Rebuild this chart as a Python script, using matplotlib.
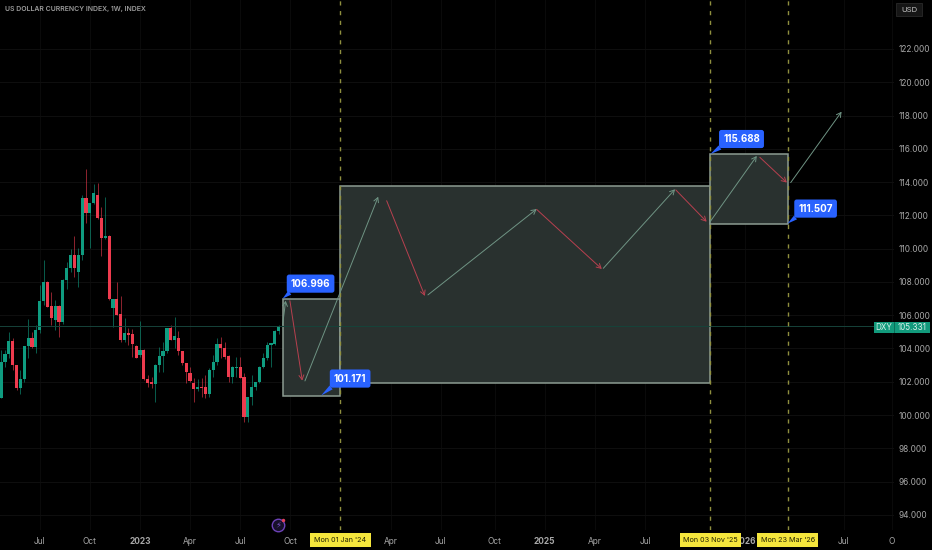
import matplotlib
matplotlib.use("Agg")
import numpy as np
import matplotlib.pyplot as plt
from matplotlib.patches import Rectangle

plt.rcParams['font.family'] = ['Inter', 'DejaVu Sans']

# weekly candles, week 0 = first week of Jan 2023
first_week = -36
opens = [101.03, 103.21, 103.67, 104.45, 103.01, 101.63, 102.17, 104.15, 104.63, 104.09,
         105.11, 106.86, 108.00, 106.55, 105.71, 106.55, 105.59, 108.12, 108.84, 109.62,
         108.60, 109.62, 113.04, 112.14, 112.74, 113.23, 111.84, 110.64, 110.76, 106.43,
         106.97, 106.07, 104.51, 104.93, 104.87, 104.15, 103.61, 103.91, 102.17, 101.99,
         101.87, 103.01, 103.55, 103.85, 105.23, 104.51, 104.63, 103.85, 103.13, 102.53,
         101.93, 101.57, 101.69, 101.69, 101.27, 102.71, 103.19, 104.27, 104.03, 103.55,
         102.29, 102.83, 102.89, 102.29, 99.88, 101.09, 101.69, 101.99, 102.89, 103.43,
         104.21, 104.27, 105.05]
highs = [103.91, 103.91, 104.99, 104.63, 103.01, 102.71, 104.16, 105.77, 104.99, 105.41,
         107.82, 109.32, 108.05, 107.40, 106.92, 106.60, 108.20, 109.20, 109.98, 110.76,
         110.04, 113.23, 114.79, 112.75, 113.89, 113.95, 112.50, 113.11, 110.80, 106.98,
         108.00, 107.16, 105.83, 105.23, 105.17, 104.20, 105.65, 103.95, 102.41, 102.29,
         103.05, 104.09, 104.39, 105.25, 105.41, 105.89, 105.05, 103.85, 103.15, 102.89,
         102.23, 102.17, 102.23, 102.41, 102.80, 103.61, 104.63, 104.69, 104.39, 103.61,
         102.95, 103.49, 103.49, 102.53, 101.09, 102.41, 102.00, 102.95, 103.73, 104.39,
         104.35, 105.10, 105.40]
lows = [101.03, 102.89, 103.43, 102.71, 101.50, 101.27, 102.00, 103.43, 104.03, 103.73,
        104.93, 106.61, 106.49, 105.41, 105.11, 104.69, 105.50, 107.58, 108.60, 108.30,
        107.70, 109.32, 111.54, 110.04, 112.70, 111.78, 109.56, 110.60, 106.90, 105.29,
        106.00, 104.39, 104.39, 104.20, 103.49, 103.40, 103.49, 102.10, 101.69, 101.63,
        100.79, 102.59, 102.59, 103.70, 104.50, 104.03, 103.61, 103.00, 101.93, 101.99,
        100.79, 101.45, 101.09, 101.03, 101.10, 102.29, 103.01, 103.43, 103.37, 102.00,
        101.93, 102.29, 102.20, 99.58, 99.58, 100.60, 101.50, 101.90, 102.80, 103.31,
        102.89, 104.20, 104.90]
closes = [103.21, 103.67, 104.45, 103.01, 101.63, 102.17, 104.15, 104.63, 104.09, 105.11,
          106.86, 108.00, 106.50, 105.83, 106.55, 105.59, 108.12, 108.84, 109.62, 108.84,
          109.62, 113.04, 112.14, 112.74, 113.35, 111.84, 110.64, 110.76, 106.97, 106.97,
          106.01, 104.51, 104.93, 104.81, 104.27, 103.43, 103.91, 102.17, 101.93, 101.87,
          103.01, 103.55, 103.85, 105.23, 104.51, 104.75, 103.85, 103.13, 102.59, 102.05,
          101.57, 101.69, 101.63, 101.27, 102.71, 103.19, 104.27, 104.03, 103.49, 102.29,
          102.89, 102.89, 102.23, 99.88, 101.09, 101.69, 101.99, 102.89, 103.43, 104.21,
          104.33, 105.05, 105.35]

# rectangles: week from, week to, price bottom, price top
box_weeks = [(37, 52), (52, 148), (148, 168)]
box_prices = [(101.171, 106.996), (101.93, 113.77), (111.507, 115.688)]

# arrows: start week, start price, end week, end price
up_arrows = [(37.0, 105.41, 37.8, 106.87), (42.8, 102.05, 61.8, 113.12),
             (74.7, 107.22, 102.9, 112.38), (120.2, 108.82, 138.8, 113.57),
             (147.9, 111.62, 160.0, 115.57), (168.8, 113.97, 182.0, 118.23)]
down_arrows = [(38.9, 106.87, 42.1, 102.07), (64.0, 112.88, 73.9, 107.16),
               (102.9, 112.36, 119.8, 108.78), (139.0, 113.53, 147.0, 111.62),
               (160.8, 115.49, 167.8, 113.97)]

price_labels = ["106.996", "101.171", "115.688", "111.507"]
label_weeks = [37, 47, 148, 168]
label_prices = [106.996, 101.171, 115.688, 111.507]
label_offsets = [(28, 15), (29, 17), (31, 15), (28, 15)]

date_weeks = [52, 148, 168]
date_labels = ["Mon 01 Jan '24", "Mon 03 Nov '25", "Mon 23 Mar '26"]

# 2024 and the Oct before 2026 sit under the yellow tags in the picture
x_ticks = [-26, -13, 0, 13, 26, 39, 65, 78, 92, 105, 118, 131, 157, 182.6, 195]
x_labels = ["Jul", "Oct", "2023", "Apr", "Jul", "Oct", "Apr", "Jul", "Oct", "2025",
            "Apr", "Jul", "2026", "Jul", "O"]
y_ticks = list(range(94, 124, 2))
last_price = 105.331

GREEN = "#0f9c80"
RED = "#ee3b4e"
BLUE = "#2962ff"
YELLOW = "#f5e63c"
TXT = "#a8a8a8"

fig = plt.figure(figsize=(9.32, 5.5), dpi=100, facecolor="black")
ax = fig.add_axes([0, 20 / 550, 894 / 932, 530 / 550], facecolor="black")
ax.set_xlim(-36.3, 195.6)
ax.set_ylim(93.09, 124.945)
for s in ax.spines.values():
    s.set_visible(False)

ax.set_xticks(x_ticks)
ax.set_xticklabels(x_labels)
ax.set_yticks(y_ticks)
ax.set_yticklabels([f"{v:.3f}" for v in y_ticks])
ax.yaxis.tick_right()
ax.tick_params(axis="both", length=0, labelcolor=TXT, labelsize=6.0)
ax.tick_params(axis="x", pad=5)
ax.tick_params(axis="y", pad=3.5)
for lab, txt in zip(ax.get_xticklabels(), x_labels):
    if txt in ("2023", "2025", "2026"):
        lab.set_fontweight("bold")
ax.grid(True, axis="y", color="#0e0e0e", lw=0.8)
ax.grid(True, axis="x", color="#0a0a0a", lw=0.8)
ax.set_axisbelow(True)

# candles
weeks = first_week + np.arange(len(opens))
o, h, l, c = map(np.array, (opens, highs, lows, closes))
cols = [GREEN if b >= a else RED for a, b in zip(o, c)]
ax.vlines(weeks, l, h, colors=cols, lw=0.7, alpha=0.6, zorder=3)
ax.bar(weeks, np.maximum(np.abs(c - o), 0.06), bottom=np.minimum(o, c), width=0.82,
       color=cols, lw=0, zorder=3)

# boxes
for (w0, w1), (p0, p1) in zip(box_weeks, box_prices):
    ax.add_patch(Rectangle((w0, p0), w1 - w0, p1 - p0, fc="#29312f", ec="#8c9c92", lw=1.1, zorder=4))

ax.axhline(last_price, color="#16433a", lw=0.7, zorder=5)
for w in date_weeks:
    ax.axvline(w, color="#8f8f3e", lw=1.0, ls=(0, (3, 4)), zorder=5)

# arrows
for seg, col in ((up_arrows, "#6f9484"), (down_arrows, "#b8404f")):
    for x0, y0, x1, y1 in seg:
        ax.annotate("", xy=(x1, y1), xytext=(x0, y0), zorder=6,
                    arrowprops=dict(arrowstyle="->,head_length=0.4,head_width=0.22", color=col,
                                    lw=0.7, shrinkA=0, shrinkB=0, mutation_scale=8))

# blue price tags
for txt, w, p, (dx, dy) in zip(price_labels, label_weeks, label_prices, label_offsets):
    ax.annotate(txt, xy=(w, p), xytext=(dx * 0.72, dy * 0.72), textcoords="offset points",
                color="white", fontsize=7, fontweight="bold", ha="center", va="center", zorder=8,
                bbox=dict(boxstyle="round,pad=0.42,rounding_size=0.25", fc=BLUE, ec=BLUE, lw=0),
                arrowprops=dict(arrowstyle="wedge,tail_width=0.5,shrink_factor=0.5", fc=BLUE, ec=BLUE,
                                lw=0, shrinkA=0, shrinkB=0, relpos=(0.25, 0.5)))

# yellow date tags, drawn over the time axis
tr = ax.get_xaxis_transform()
for w, txt in zip(date_weeks, date_labels):
    ax.add_patch(Rectangle((w - 8.0, -17 / 530), 16.0, 14 / 530, transform=tr, fc=YELLOW, ec="none",
                           clip_on=False, zorder=11))
    ax.text(w, -10 / 530, txt, transform=tr, ha="center", va="center", fontsize=5.2, color="#222200",
            clip_on=False, zorder=12)


def px_box(x0, y0, x1, y1, **kw):
    fig.add_artist(Rectangle((x0 / 932, 1 - y1 / 550), (x1 - x0) / 932, (y1 - y0) / 550,
                             transform=fig.transFigure, **kw))


# last price tag on the scale
px_box(874, 322, 930, 333, fc="#129a7c", ec="none", zorder=5)
px_box(893.5, 322, 894.5, 333, fc="#0b6f59", ec="none", zorder=6)
fig.text(884 / 932, 1 - 327.5 / 550, "DXY", color="#d8f0ea", fontsize=5.8, ha="center", va="center", zorder=7)
fig.text(912 / 932, 1 - 327.5 / 550, f"{last_price:.3f}", color="#d8f0ea", fontsize=5.8, ha="center", va="center", zorder=7)

# currency button and title
px_box(896, 3, 922, 16, fc="#161616", ec="#2a2a2a", lw=0.6)
fig.text(909 / 932, 1 - 9.5 / 550, "USD", color="#c4c4c4", fontsize=5.6, ha="center", va="center")
fig.text(5 / 932, 1 - 9.5 / 550, "US DOLLAR CURRENCY INDEX, 1W, INDEX", color="#9c9c9c", fontsize=4.95,
         fontweight="semibold", ha="left", va="center")

# lightning badge
ax.plot([35.8], [93.39], marker="o", ms=9, mfc="#17102a", mec="#6d42b8", mew=1, zorder=6, clip_on=False)
ax.text(35.8, 93.39, "\u26a1", color="#7a52c8", fontsize=6, ha="center", va="center", zorder=7,
        family="DejaVu Sans", clip_on=False)
ax.plot([37.2], [93.72], marker="o", ms=2.5, mfc="#e0405a", mec="none", zorder=7, clip_on=False)

fig.savefig("out.png", dpi=100, facecolor="black")
plt.close(fig)
